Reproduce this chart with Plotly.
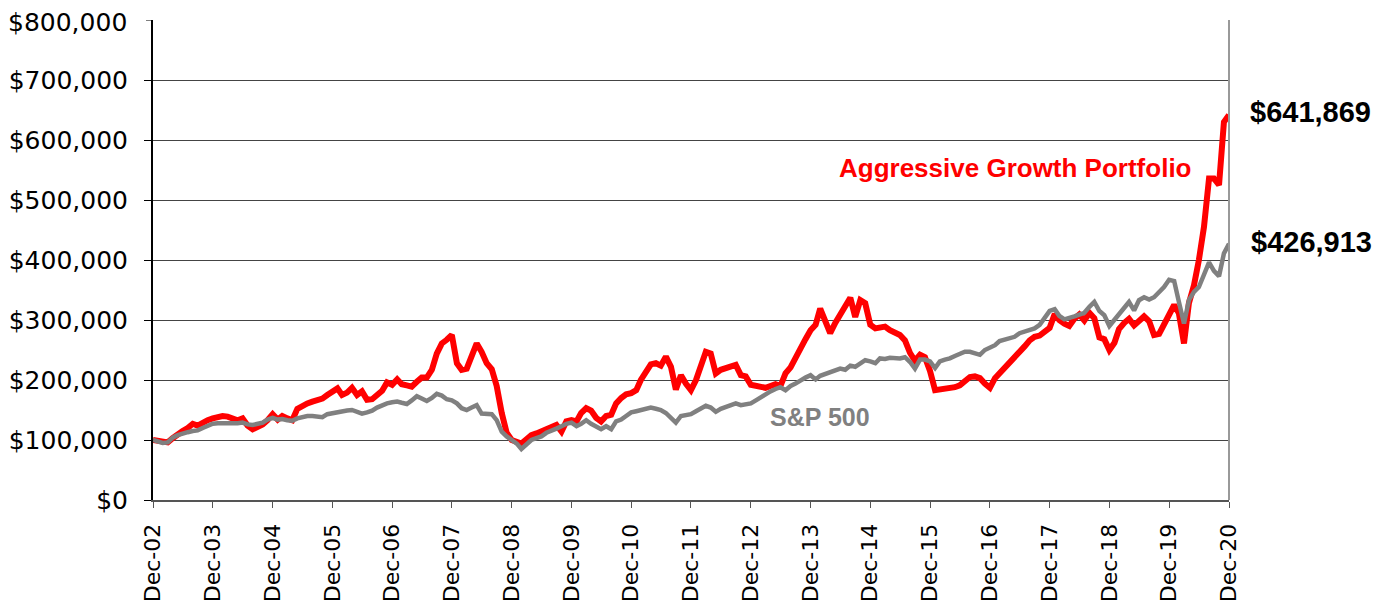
import pandas as pd
import plotly.graph_objects as go

# Growth of $100,000 (values in thousands of dollars), month-end, Dec-02 .. Dec-20
start_value = 100
port_2003 = [98, 96, 96, 103, 110, 115, 120, 127, 124, 130, 133, 136]
port_2004 = [139, 140, 139, 136, 133, 136, 124, 118, 121, 126, 133, 143]
port_2005 = [134, 140, 136, 133, 152, 157, 161, 164, 166, 169, 175, 180]
port_2006 = [186, 175, 179, 187, 175, 181, 167, 168, 174, 182, 196, 192]
port_2007 = [201, 193, 191, 189, 197, 204, 204, 217, 244, 261, 267, 275]
port_2008 = [228, 217, 219, 239, 261, 247, 228, 218, 190, 145, 112, 100]
port_2009 = [97, 94, 101, 108, 111, 115, 119, 123, 125, 114, 131, 133]
port_2010 = [131, 145, 153, 149, 137, 131, 140, 142, 161, 170, 176, 178]
port_2011 = [183, 200, 215, 226, 228, 224, 239, 222, 184, 208, 194, 183]
port_2012 = [200, 225, 247, 244, 211, 217, 220, 223, 225, 208, 206, 192]
port_2013 = [190, 189, 187, 190, 193, 190, 211, 221, 238, 252, 268, 283]
port_2014 = [292, 319, 297, 278, 295, 308, 320, 337, 305, 333, 328, 292]
port_2015 = [286, 288, 289, 283, 279, 275, 266, 245, 232, 242, 238, 215]
port_2016 = [183, 184, 186, 187, 188, 191, 198, 205, 206, 203, 194, 187]
port_2017 = [203, 211, 219, 228, 236, 245, 256, 266, 272, 274, 279, 287]
port_2018 = [310, 300, 294, 290, 302, 309, 299, 312, 303, 271, 268, 250]
port_2019 = [262, 285, 295, 302, 291, 300, 306, 298, 275, 277, 293, 305]
port_2020 = [325, 311, 261, 328, 358, 400, 455, 536, 536, 525, 630, 641.869]

spx_2003 = [97, 95, 96, 104, 108, 111, 113, 115, 116, 120, 123, 127]
spx_2004 = [128, 128, 127, 127, 128, 129, 126, 125, 127, 129, 134, 137]
spx_2005 = [134, 135, 133, 132, 136, 138, 140, 140, 139, 138, 143, 145]
spx_2006 = [147, 148, 149, 150, 146, 144, 146, 149, 154, 158, 161, 163]
spx_2007 = [164, 162, 160, 166, 173, 169, 165, 170, 177, 174, 168, 166]
spx_2008 = [161, 153, 150, 154, 158, 144, 143, 143, 133, 114, 106, 100]
spx_2009 = [94, 85, 93, 100, 103, 106, 112, 115, 119, 123, 127, 129]
spx_2010 = [123, 127, 133, 127, 122, 118, 123, 118, 131, 134, 140, 146]
spx_2011 = [148, 150, 153, 154, 152, 150, 145, 137, 129, 140, 141, 143]
spx_2012 = [148, 153, 157, 154, 147, 152, 155, 159, 161, 158, 159, 161]
spx_2013 = [166, 171, 175, 181, 185, 188, 183, 190, 194, 200, 204, 208]
spx_2014 = [201, 207, 210, 212, 215, 219, 217, 224, 222, 228, 233, 231]
spx_2015 = [228, 236, 235, 237, 236, 236, 238, 230, 219, 234, 234, 231]
spx_2016 = [220, 231, 234, 236, 240, 244, 247, 247, 245, 242, 250, 254]
spx_2017 = [258, 265, 268, 269, 272, 278, 281, 283, 286, 292, 302, 315]
spx_2018 = [318, 307, 301, 303, 306, 309, 312, 322, 330, 315, 308, 290]
spx_2019 = [300, 310, 320, 330, 316, 333, 338, 334, 338, 346, 355, 367]
spx_2020 = [365, 330, 294, 333, 347, 355, 375, 396, 382, 373, 411, 426.913]

tick_years = list(range(2002, 2021))
tick_labels = ["Dec-%02d" % (y % 100) for y in tick_years]
y_ticks = [0, 100000, 200000, 300000, 400000, 500000, 600000, 700000, 800000]
y_tick_labels = ["$0", "$100,000", "$200,000", "$300,000", "$400,000",
                 "$500,000", "$600,000", "$700,000", "$800,000"]

port_years = [port_2003, port_2004, port_2005, port_2006, port_2007, port_2008,
              port_2009, port_2010, port_2011, port_2012, port_2013, port_2014,
              port_2015, port_2016, port_2017, port_2018, port_2019, port_2020]
spx_years = [spx_2003, spx_2004, spx_2005, spx_2006, spx_2007, spx_2008,
             spx_2009, spx_2010, spx_2011, spx_2012, spx_2013, spx_2014,
             spx_2015, spx_2016, spx_2017, spx_2018, spx_2019, spx_2020]

portfolio = [start_value] + [v for yr in port_years for v in yr]
sp500 = [start_value] + [v for yr in spx_years for v in yr]
portfolio = [v * 1000 for v in portfolio]
sp500 = [v * 1000 for v in sp500]
dates = pd.date_range("2002-12-31", periods=len(portfolio), freq="ME")
tick_vals = [pd.Timestamp(f"{y}-12-31") for y in tick_years]

fig = go.Figure()
fig.add_trace(go.Scatter(x=dates, y=portfolio, mode="lines",
                         line=dict(color="#FF0000", width=6), name="Aggressive Growth Portfolio"))
fig.add_trace(go.Scatter(x=dates, y=sp500, mode="lines",
                         line=dict(color="#808080", width=4.5), name="S&P 500"))

# page offset of the figure inside the browser page (body margin)
OFF = 8
W, H = 1387, 600
plot_left, plot_right, plot_top, plot_bottom = 153, 1229, 20, 500  # page pixels
L = plot_left - OFF
T = plot_top - OFF
R = W - (plot_right - OFF)
B = H - (plot_bottom - OFF)
pw, ph = plot_right - plot_left, plot_bottom - plot_top

def px(xp):
    return (xp - plot_left) / pw

def py(yp):
    return (plot_bottom - yp) / ph

bold_font = "Liberation Sans, Arial, sans-serif"
annots = [
    dict(text="Aggressive Growth Portfolio", x=px(1015), y=py(168), color="#FF0000", size=26),
    dict(text="S&P 500", x=px(820), y=py(417), color="#808080", size=25),
    dict(text="$641,869", x=px(1310), y=py(112), color="#000000", size=29),
    dict(text="$426,913", x=px(1311), y=py(242), color="#000000", size=29),
]
for a in annots:
    fig.add_annotation(text="<b>%s</b>" % a["text"], x=a["x"], y=a["y"], xref="paper", yref="paper",
                       showarrow=False, xanchor="center", yanchor="middle",
                       font=dict(family=bold_font, size=a["size"], color=a["color"]))

# top y tick label (plotly drops it because it touches the figure edge): draw it as text
fig.add_annotation(text=y_tick_labels[-1], x=px(129), y=1, xref="paper", yref="y",
                   showarrow=False, xanchor="right", yanchor="middle", yshift=-2)
fig.update_annotations(selector=dict(text=y_tick_labels[-1]), y=y_ticks[-1],
                       font=dict(family="DejaVu Sans", size=25, color="#000000"))

fig.add_shape(type="line", xref="paper", yref="paper", x0=1, x1=1, y0=0, y1=1,
              line=dict(color="#999999", width=2))

fig.update_layout(
    width=W, height=H, margin=dict(l=L, r=R, t=T, b=B, autoexpand=False),
    plot_bgcolor="white", paper_bgcolor="white", showlegend=False,
    font=dict(family="DejaVu Sans", size=24, color="#000000"),
)
fig.update_xaxes(
    range=[dates[0], dates[-1]], tickvals=tick_vals, ticktext=tick_labels, tickangle=-90,
    showgrid=False, showline=True, linecolor="#555555", linewidth=2, automargin=False,
    ticks="outside", ticklen=6, tickcolor="#555555", ticklabelstandoff=7,
    tickfont=dict(family="DejaVu Sans", size=22),
)
fig.update_yaxes(
    range=[0, 800000], tickmode="array", tickvals=y_ticks[:-1], ticktext=y_tick_labels[:-1],
    showgrid=True, gridcolor="#444444", gridwidth=1, zeroline=False, automargin=False,
    showline=True, linecolor="#000000", linewidth=2, ticklabelstandoff=11,
    ticks="outside", ticklen=7, tickcolor="#000000", tickfont=dict(family="DejaVu Sans", size=25),
)
# tick mark at the top of the axis (no label there; the label is the annotation above)
fig.add_shape(type="line", xref="paper", yref="y", x0=px(146), x1=0, y0=y_ticks[-1], y1=y_ticks[-1],
              line=dict(color="#000000", width=1))

fig.write_html("out.html")
